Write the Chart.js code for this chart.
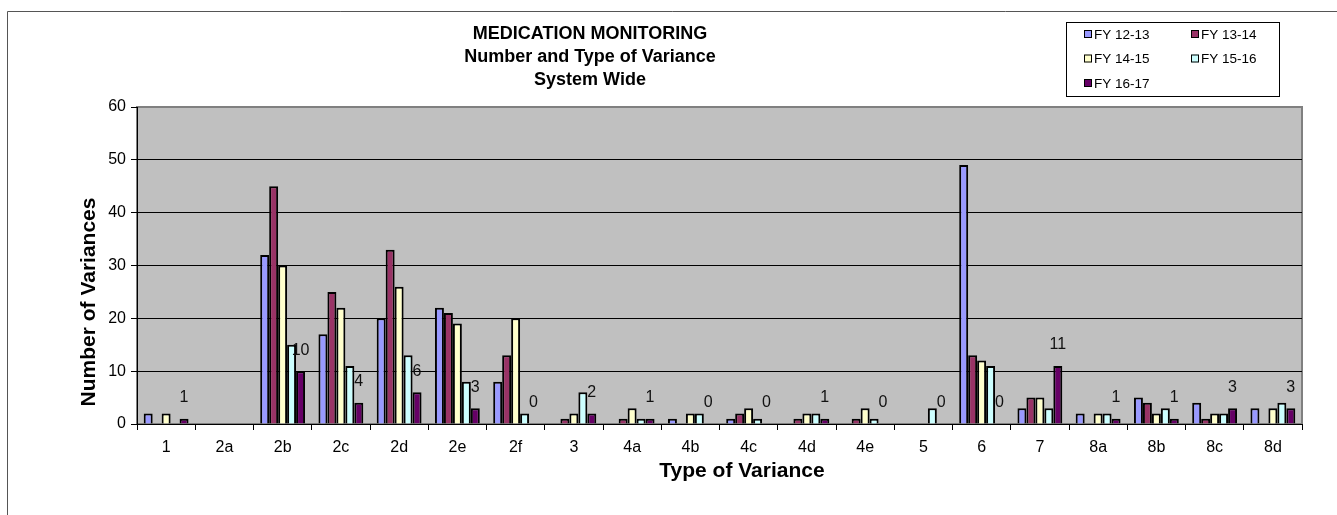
<!DOCTYPE html>
<html>
<head>
<meta charset="utf-8">
<script src="https://cdn.jsdelivr.net/npm/chart.js@4.4.0/dist/chart.umd.min.js"></script>
<style>
    body { margin: 0; background: #fff; }
    #wrap { width: 1337px; height: 515px; }
</style>
</head>
<body>
<div id="wrap"><canvas id="myChart" width="1337" height="515"></canvas></div>
<script>
const categories = ['1', '2a', '2b', '2c', '2d', '2e', '2f', '3', '4a', '4b', '4c', '4d', '4e', '5', '6', '7', '8a', '8b', '8c', '8d'];
const seriesNames = ['FY 12-13', 'FY 13-14', 'FY 14-15', 'FY 15-16', 'FY 16-17'];
const fy1213 = [2, 0, 32, 17, 20, 22, 8, 0, 0, 1, 1, 0, 0, 0, 49, 3, 2, 5, 4, 3];
const fy1314 = [0, 0, 45, 25, 33, 21, 13, 1, 1, 0, 2, 1, 1, 0, 13, 5, 0, 4, 1, 0];
const fy1415 = [2, 0, 30, 22, 26, 19, 20, 2, 3, 2, 3, 2, 3, 0, 12, 5, 2, 2, 2, 3];
const fy1516 = [0, 0, 15, 11, 13, 8, 2, 6, 1, 2, 1, 2, 1, 3, 11, 3, 2, 3, 2, 4];
const fy1617 = [1, null, 10, 4, 6, 3, 0, 2, 1, 0, 0, 1, 0, 0, 0, 11, 1, 1, 3, 3];
const yTicks = [0, 10, 20, 30, 40, 50, 60];
const titleLines = ['MEDICATION MONITORING', 'Number and Type of Variance', 'System Wide'];
const xTitle = 'Type of Variance';
const yTitle = 'Number of Variances';

const barColors = ['#9999FF', '#993366', '#FFFFCC', '#CCFFFF', '#660066'];
const allSeries = [fy1213, fy1314, fy1415, fy1516, fy1617];
const FONT = '"Liberation Sans", Arial, sans-serif';

// frame, plot background, titles, legend and data labels
const excelLook = {
    id: 'excelLook',
    beforeDraw(chart) {
        const ctx = chart.ctx;
        const a = chart.chartArea;
        ctx.save();
        ctx.fillStyle = '#fff';
        ctx.fillRect(0, 0, chart.width, chart.height);
        ctx.strokeStyle = '#555';
        ctx.lineWidth = 1;
        ctx.beginPath();
        ctx.moveTo(7.5, chart.height + 5);
        ctx.lineTo(7.5, 11.5);
        ctx.lineTo(chart.width + 5, 11.5);
        ctx.stroke();
        ctx.fillStyle = '#C0C0C0';
        ctx.fillRect(a.left, a.top, a.right - a.left, a.bottom - a.top);
        ctx.strokeStyle = '#808080';
        ctx.lineWidth = 2;
        ctx.strokeRect(a.left, a.top, a.right - a.left, a.bottom - a.top);
        ctx.restore();
    },
    afterDraw(chart) {
        const ctx = chart.ctx;
        ctx.save();
        // chart title
        ctx.fillStyle = '#000';
        ctx.font = 'bold 18px ' + FONT;
        ctx.textAlign = 'center';
        ctx.textBaseline = 'middle';
        titleLines.forEach((t, i) => ctx.fillText(t, 590, 34 + i * 23));

        // axis titles
        ctx.font = 'bold 21px ' + FONT;
        ctx.textBaseline = 'alphabetic';
        ctx.fillText(xTitle, 742, 477);
        ctx.save();
        ctx.translate(95, 302);
        ctx.rotate(-Math.PI / 2);
        ctx.fillText(yTitle, 0, 0);
        ctx.restore();

        // legend
        ctx.strokeStyle = '#000';
        ctx.lineWidth = 1;
        ctx.strokeRect(1066.5, 22.5, 213, 74);
        ctx.font = '13.5px ' + FONT;
        ctx.textAlign = 'left';
        ctx.textBaseline = 'middle';
        chart.data.datasets.forEach((ds, i) => {
            const x = 1084 + (i % 2) * 107;
            const y = 34 + Math.floor(i / 2) * 24.5;
            ctx.fillStyle = ds.backgroundColor;
            ctx.fillRect(x, y - 4, 8, 8);
            ctx.strokeRect(x + 0.5, y - 3.5, 7, 7);
            ctx.fillStyle = '#000';
            ctx.fillText(ds.label, x + 10, y + 1);
        });

        // data labels of the last series
        const last = chart.data.datasets.length - 1;
        const meta = chart.getDatasetMeta(last);
        ctx.font = '16px ' + FONT;
        ctx.textAlign = 'center';
        ctx.fillStyle = '#111';
        meta.data.forEach((bar, j) => {
            const v = chart.data.datasets[last].data[j];
            if (v === null) return;
            ctx.fillText(String(v), bar.x, bar.y - 21);
        });
        ctx.restore();
    }
};

const ctx = document.getElementById('myChart');

new Chart(ctx, {
    type: 'bar',
    data: {
        labels: categories,
        datasets: seriesNames.map((name, i) => ({
            label: name,
            data: allSeries[i],
            backgroundColor: barColors[i],
            borderColor: '#000',
            borderWidth: 2,
            barPercentage: 1,
            categoryPercentage: 0.77,
        }))
    },
    options: {
        responsive: false,
        animation: false,
        layout: {
            padding: { left: 78, top: 107, right: 35, bottom: 0 }
        },
        scales: {
            x: {
                grid: {
                    offset: true,
                    drawOnChartArea: false,
                    color: '#000',
                    tickLength: 6,
                },
                border: { color: '#000', width: 1 },
                ticks: {
                    color: '#000',
                    padding: 8,
                    font: { family: '"Liberation Sans", Arial', size: 16 },
                },
                afterFit(scale) { scale.height = 515 - 424; }
            },
            y: {
                min: 0,
                max: 60,
                afterBuildTicks(scale) { scale.ticks = yTicks.map(v => ({ value: v })); },
                grid: {
                    color: (c) => c.tick && c.tick.value === 60 ? 'rgba(0,0,0,0)' : '#000',
                    tickColor: '#000',
                    tickLength: 6,
                },
                border: { color: '#000', width: 1 },
                ticks: {
                    color: '#000',
                    padding: 5,
                    font: { family: '"Liberation Sans", Arial', size: 16 },
                },
                afterFit(scale) { scale.width = 137 - 78; }
            }
        },
        plugins: {
            legend: { display: false },
            title: { display: false },
            tooltip: { enabled: false }
        }
    },
    plugins: [excelLook]
});
</script>
</body>
</html>
